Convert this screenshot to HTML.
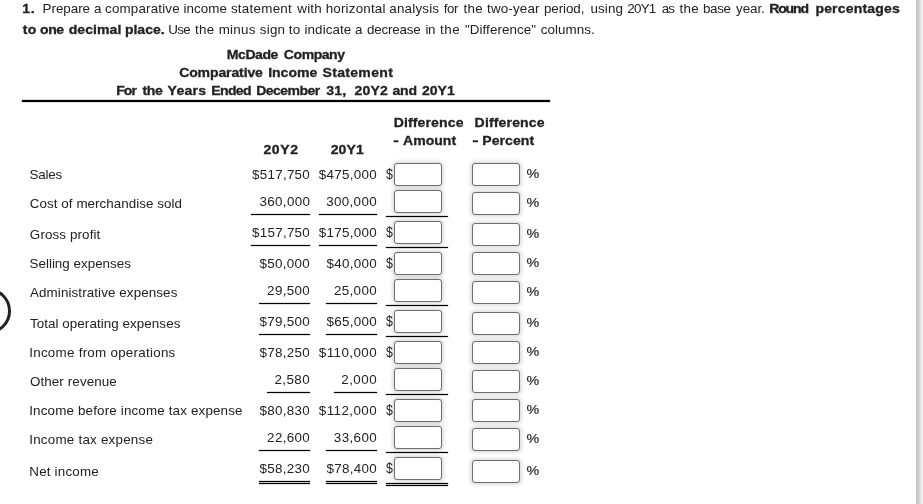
<!DOCTYPE html>
<html><head><meta charset="utf-8"><title>Comparative Income Statement</title>
<style>
html,body{margin:0;padding:0;background:#fff;}
body{width:923px;height:504px;position:relative;overflow:hidden;filter:grayscale(1);font-family:"Liberation Sans",sans-serif;color:#222;}
.t{position:absolute;left:0;white-space:nowrap;line-height:16px;font-size:13px;transform-origin:0 0;}
.b{font-weight:bold;-webkit-text-stroke:.3px #222;}
.pc{-webkit-text-stroke:.15px #222;}
.ln{position:absolute;background:#000;height:1px;box-shadow:0 0 0 .12px #000;}
.in{position:absolute;box-sizing:border-box;width:48px;height:23px;border:1px solid #6e6e6e;border-radius:3px;background:#fff;box-shadow:0 0 4px 0.5px rgba(0,0,0,.19);}
.sb{position:absolute;left:916px;top:0;width:7px;height:504px;background:linear-gradient(to right,#c3c3c3 0px,#c3c3c3 1px,#c9c9c9 1px,#c9c9c9 2px,#cfcfcf 2px,#cfcfcf 3px,#d8d8d8 3px,#d8d8d8 4px,#e3e3e3 4px,#e3e3e3 5px,#ededed 5px,#ededed 6px,#f1f1f1 6px,#f1f1f1 7px);}
.circ{position:absolute;left:-35.4px;top:287.5px;width:46.5px;height:46.5px;box-sizing:border-box;border:3px solid #222;border-radius:50%;}
</style></head><body>
<div class="t b" style="top:0.7px;letter-spacing:0.588px;transform:translateX(22.24px) scaleX(1.08)">1.</div>
<div class="t" style="top:0.7px;letter-spacing:-0.026px;transform:translateX(42.56px) scaleX(1.03)">Prepare</div>
<div class="t" style="top:0.7px;transform:translateX(94.11px) scaleX(1.03)">a</div>
<div class="t" style="top:0.7px;letter-spacing:0.159px;transform:translateX(105.06px) scaleX(1.03)">comparative</div>
<div class="t" style="top:0.7px;letter-spacing:0.066px;transform:translateX(183.51px) scaleX(1.03)">income</div>
<div class="t" style="top:0.7px;letter-spacing:0.249px;transform:translateX(230.92px) scaleX(1.03)">statement</div>
<div class="t" style="top:0.7px;letter-spacing:0.145px;transform:translateX(297.34px) scaleX(1.03)">with</div>
<div class="t" style="top:0.7px;letter-spacing:0.191px;transform:translateX(325.65px) scaleX(1.03)">horizontal</div>
<div class="t" style="top:0.7px;letter-spacing:0.172px;transform:translateX(389.36px) scaleX(1.03)">analysis</div>
<div class="t" style="top:0.7px;letter-spacing:-0.428px;transform:translateX(443.76px) scaleX(1.03)">for</div>
<div class="t" style="top:0.7px;letter-spacing:0.306px;transform:translateX(463.53px) scaleX(1.03)">the</div>
<div class="t" style="top:0.7px;letter-spacing:0.141px;transform:translateX(487.09px) scaleX(1.03)">two-year</div>
<div class="t" style="top:0.7px;letter-spacing:-0.075px;transform:translateX(543.94px) scaleX(1.03)">period,</div>
<div class="t" style="top:0.7px;letter-spacing:0.120px;transform:translateX(590.42px) scaleX(1.03)">using</div>
<div class="t" style="top:0.7px;letter-spacing:-0.704px;transform:translateX(627.21px) scaleX(1.03)">20Y1</div>
<div class="t" style="top:0.7px;letter-spacing:-1.033px;transform:translateX(661.81px) scaleX(1.03)">as</div>
<div class="t" style="top:0.7px;letter-spacing:0.241px;transform:translateX(679.54px) scaleX(1.03)">the</div>
<div class="t" style="top:0.7px;letter-spacing:-0.298px;transform:translateX(702.94px) scaleX(1.03)">base</div>
<div class="t" style="top:0.7px;letter-spacing:-0.092px;transform:translateX(736.08px) scaleX(1.03)">year.</div>
<div class="t b" style="top:0.7px;letter-spacing:-1.045px;transform:translateX(769.15px) scaleX(1.08)">Round</div>
<div class="t b" style="top:0.7px;letter-spacing:0.146px;transform:translateX(815.42px) scaleX(1.08)">percentages</div>
<div class="t b" style="top:21.7px;letter-spacing:0.392px;transform:translateX(22.64px) scaleX(1.08)">to</div>
<div class="t b" style="top:21.7px;letter-spacing:-0.342px;transform:translateX(39.93px) scaleX(1.08)">one</div>
<div class="t b" style="top:21.7px;letter-spacing:0.057px;transform:translateX(68.70px) scaleX(1.08)">decimal</div>
<div class="t b" style="top:21.7px;letter-spacing:-0.021px;transform:translateX(124.92px) scaleX(1.08)">place.</div>
<div class="t" style="top:21.7px;letter-spacing:-0.679px;transform:translateX(168.33px) scaleX(1.03)">Use</div>
<div class="t" style="top:21.7px;letter-spacing:0.274px;transform:translateX(195.09px) scaleX(1.03)">the</div>
<div class="t" style="top:21.7px;letter-spacing:0.277px;transform:translateX(218.65px) scaleX(1.03)">minus</div>
<div class="t" style="top:21.7px;letter-spacing:0.231px;transform:translateX(259.77px) scaleX(1.03)">sign</div>
<div class="t" style="top:21.7px;letter-spacing:0.278px;transform:translateX(288.74px) scaleX(1.03)">to</div>
<div class="t" style="top:21.7px;letter-spacing:0.086px;transform:translateX(304.51px) scaleX(1.03)">indicate</div>
<div class="t" style="top:21.7px;transform:translateX(355.11px) scaleX(1.03)">a</div>
<div class="t" style="top:21.7px;letter-spacing:-0.168px;transform:translateX(366.90px) scaleX(1.03)">decrease</div>
<div class="t" style="top:21.7px;letter-spacing:-0.369px;transform:translateX(425.43px) scaleX(1.03)">in</div>
<div class="t" style="top:21.7px;letter-spacing:0.479px;transform:translateX(440.08px) scaleX(1.03)">the</div>
<div class="t" style="top:21.7px;letter-spacing:0.074px;transform:translateX(464.90px) scaleX(1.03)">"Difference"</div>
<div class="t" style="top:21.7px;letter-spacing:0.047px;transform:translateX(540.81px) scaleX(1.03)">columns.</div>
<div class="t b" style="top:46.7px;letter-spacing:-0.428px;transform:translateX(226.81px) scaleX(1.08)">McDade</div>
<div class="t b" style="top:46.7px;letter-spacing:-0.437px;transform:translateX(283.86px) scaleX(1.08)">Company</div>
<div class="t b" style="top:64.7px;letter-spacing:-0.121px;transform:translateX(179.16px) scaleX(1.08)">Comparative</div>
<div class="t b" style="top:64.7px;letter-spacing:0.001px;transform:translateX(268.14px) scaleX(1.08)">Income</div>
<div class="t b" style="top:64.7px;letter-spacing:0.289px;transform:translateX(322.47px) scaleX(1.08)">Statement</div>
<div class="t b" style="top:82.7px;letter-spacing:-0.851px;transform:translateX(116.15px) scaleX(1.08)">For</div>
<div class="t b" style="top:82.7px;letter-spacing:-0.374px;transform:translateX(142.50px) scaleX(1.08)">the</div>
<div class="t b" style="top:82.7px;letter-spacing:0.220px;transform:translateX(167.62px) scaleX(1.08)">Years</div>
<div class="t b" style="top:82.7px;letter-spacing:-0.595px;transform:translateX(211.24px) scaleX(1.08)">Ended</div>
<div class="t b" style="top:82.7px;letter-spacing:-0.516px;transform:translateX(256.20px) scaleX(1.08)">December</div>
<div class="t b" style="top:82.7px;letter-spacing:0.280px;transform:translateX(326.13px) scaleX(1.08)">31,</div>
<div class="t b" style="top:82.7px;letter-spacing:0.171px;transform:translateX(354.41px) scaleX(1.08)">20Y2</div>
<div class="t b" style="top:82.7px;letter-spacing:-0.260px;transform:translateX(392.58px) scaleX(1.08)">and</div>
<div class="t b" style="top:82.7px;letter-spacing:-0.019px;transform:translateX(421.96px) scaleX(1.08)">20Y1</div>
<div class="t b" style="top:141.7px;letter-spacing:0.548px;transform:translateX(263.41px) scaleX(1.08)">20Y2</div>
<div class="t b" style="top:141.7px;letter-spacing:0.060px;transform:translateX(330.72px) scaleX(1.08)">20Y1</div>
<div class="t b" style="top:114.7px;letter-spacing:0.108px;transform:translateX(393.75px) scaleX(1.08)">Difference</div>
<div class="t b" style="top:132.7px;transform:translateX(393.24px) scaleX(1.266)">-</div>
<div class="t b" style="top:132.7px;letter-spacing:-0.014px;transform:translateX(403.11px) scaleX(1.08)">Amount</div>
<div class="t b" style="top:114.7px;letter-spacing:0.137px;transform:translateX(474.61px) scaleX(1.08)">Difference</div>
<div class="t b" style="top:132.7px;transform:translateX(472.29px) scaleX(1.455)">-</div>
<div class="t b" style="top:132.7px;letter-spacing:0.051px;transform:translateX(482.23px) scaleX(1.08)">Percent</div>
<div class="t" style="top:166.7px;letter-spacing:-0.192px;transform:translateX(29.53px) scaleX(1.03)">Sales</div>
<div class="t" style="top:166.7px;letter-spacing:0.253px;transform:translateX(252.09px) scaleX(1.03)">$517,750</div>
<div class="t" style="top:166.7px;letter-spacing:0.272px;transform:translateX(318.83px) scaleX(1.03)">$475,000</div>
<div class="t" style="top:165.7px;font-size:14.5px;transform:translateX(385.97px) scaleX(0.846)">$</div>
<div class="t pc" style="top:165.7px;transform:translateX(526.56px) scaleX(1.103)">%</div>
<div class="t" style="top:195.7px;letter-spacing:0.048px;transform:translateX(29.85px) scaleX(1.03)">Cost of merchandise sold</div>
<div class="t" style="top:193.7px;letter-spacing:0.332px;transform:translateX(259.46px) scaleX(1.03)">360,000</div>
<div class="t" style="top:193.7px;letter-spacing:0.345px;transform:translateX(326.13px) scaleX(1.03)">300,000</div>
<div class="t pc" style="top:194.7px;transform:translateX(526.56px) scaleX(1.103)">%</div>
<div class="t" style="top:226.7px;letter-spacing:0.113px;transform:translateX(29.85px) scaleX(1.03)">Gross profit</div>
<div class="t" style="top:224.7px;letter-spacing:0.253px;transform:translateX(252.09px) scaleX(1.03)">$157,750</div>
<div class="t" style="top:224.7px;letter-spacing:0.272px;transform:translateX(318.83px) scaleX(1.03)">$175,000</div>
<div class="t" style="top:223.7px;font-size:14.5px;transform:translateX(385.97px) scaleX(0.846)">$</div>
<div class="t pc" style="top:225.7px;transform:translateX(526.56px) scaleX(1.103)">%</div>
<div class="t" style="top:255.7px;letter-spacing:0.008px;transform:translateX(29.53px) scaleX(1.03)">Selling expenses</div>
<div class="t" style="top:255.7px;letter-spacing:0.282px;transform:translateX(259.53px) scaleX(1.03)">$50,000</div>
<div class="t" style="top:255.7px;letter-spacing:0.289px;transform:translateX(326.45px) scaleX(1.03)">$40,000</div>
<div class="t" style="top:254.7px;font-size:14.5px;transform:translateX(385.97px) scaleX(0.846)">$</div>
<div class="t pc" style="top:254.7px;transform:translateX(526.56px) scaleX(1.103)">%</div>
<div class="t" style="top:284.7px;letter-spacing:0.096px;transform:translateX(30.02px) scaleX(1.03)">Administrative expenses</div>
<div class="t" style="top:282.7px;letter-spacing:0.325px;transform:translateX(267.10px) scaleX(1.03)">29,500</div>
<div class="t" style="top:282.7px;letter-spacing:0.337px;transform:translateX(333.96px) scaleX(1.03)">25,000</div>
<div class="t pc" style="top:283.7px;transform:translateX(526.56px) scaleX(1.103)">%</div>
<div class="t" style="top:315.7px;letter-spacing:0.066px;transform:translateX(29.90px) scaleX(1.03)">Total operating expenses</div>
<div class="t" style="top:313.7px;letter-spacing:0.282px;transform:translateX(259.53px) scaleX(1.03)">$79,500</div>
<div class="t" style="top:313.7px;letter-spacing:0.289px;transform:translateX(326.45px) scaleX(1.03)">$65,000</div>
<div class="t" style="top:312.7px;font-size:14.5px;transform:translateX(385.97px) scaleX(0.846)">$</div>
<div class="t pc" style="top:314.7px;transform:translateX(526.56px) scaleX(1.103)">%</div>
<div class="t" style="top:344.7px;letter-spacing:0.249px;transform:translateX(29.23px) scaleX(1.03)">Income from operations</div>
<div class="t" style="top:344.7px;letter-spacing:0.282px;transform:translateX(259.53px) scaleX(1.03)">$78,250</div>
<div class="t" style="top:344.7px;letter-spacing:0.410px;transform:translateX(318.83px) scaleX(1.03)">$110,000</div>
<div class="t" style="top:343.7px;font-size:14.5px;transform:translateX(385.97px) scaleX(0.846)">$</div>
<div class="t pc" style="top:343.7px;transform:translateX(526.56px) scaleX(1.103)">%</div>
<div class="t" style="top:373.7px;letter-spacing:0.107px;transform:translateX(29.90px) scaleX(1.03)">Other revenue</div>
<div class="t" style="top:371.7px;letter-spacing:0.421px;transform:translateX(274.39px) scaleX(1.03)">2,580</div>
<div class="t" style="top:371.7px;letter-spacing:0.451px;transform:translateX(341.25px) scaleX(1.03)">2,000</div>
<div class="t pc" style="top:372.7px;transform:translateX(526.56px) scaleX(1.103)">%</div>
<div class="t" style="top:402.7px;letter-spacing:0.153px;transform:translateX(29.23px) scaleX(1.03)">Income before income tax expense</div>
<div class="t" style="top:402.7px;letter-spacing:0.282px;transform:translateX(259.53px) scaleX(1.03)">$80,830</div>
<div class="t" style="top:402.7px;letter-spacing:0.410px;transform:translateX(318.83px) scaleX(1.03)">$112,000</div>
<div class="t" style="top:401.7px;font-size:14.5px;transform:translateX(385.97px) scaleX(0.846)">$</div>
<div class="t pc" style="top:401.7px;transform:translateX(526.56px) scaleX(1.103)">%</div>
<div class="t" style="top:431.7px;letter-spacing:0.219px;transform:translateX(29.23px) scaleX(1.03)">Income tax expense</div>
<div class="t" style="top:429.7px;letter-spacing:0.325px;transform:translateX(267.10px) scaleX(1.03)">22,600</div>
<div class="t" style="top:429.7px;letter-spacing:0.353px;transform:translateX(333.87px) scaleX(1.03)">33,600</div>
<div class="t pc" style="top:430.7px;transform:translateX(526.56px) scaleX(1.103)">%</div>
<div class="t" style="top:463.7px;letter-spacing:0.178px;transform:translateX(29.31px) scaleX(1.03)">Net income</div>
<div class="t" style="top:460.7px;letter-spacing:0.282px;transform:translateX(259.53px) scaleX(1.03)">$58,230</div>
<div class="t" style="top:460.7px;letter-spacing:0.289px;transform:translateX(326.45px) scaleX(1.03)">$78,400</div>
<div class="t" style="top:459.7px;font-size:14.5px;transform:translateX(385.97px) scaleX(0.846)">$</div>
<div class="t pc" style="top:462.7px;transform:translateX(526.56px) scaleX(1.103)">%</div>
<div class="ln" style="left:22px;top:100px;width:528px;height:2px;background:#000"></div>
<div class="in" style="left:394px;top:163px"></div><div class="in" style="left:472px;top:163px"></div>
<div class="in" style="left:394px;top:190px"></div><div class="in" style="left:472px;top:192px"></div>
<div class="ln" style="left:251px;top:214px;width:59px"></div><div class="ln" style="left:319px;top:214px;width:58px"></div><div class="ln" style="left:386px;top:216px;width:62px"></div>
<div class="in" style="left:394px;top:221px"></div><div class="in" style="left:472px;top:223px"></div>
<div class="ln" style="left:251px;top:245px;width:59px"></div><div class="ln" style="left:319px;top:245px;width:58px"></div><div class="ln" style="left:386px;top:247px;width:62px"></div>
<div class="in" style="left:394px;top:252px"></div><div class="in" style="left:472px;top:252px"></div>
<div class="in" style="left:394px;top:279px"></div><div class="in" style="left:472px;top:281px"></div>
<div class="ln" style="left:259px;top:303px;width:51px"></div><div class="ln" style="left:326px;top:303px;width:51px"></div><div class="ln" style="left:386px;top:305px;width:62px"></div>
<div class="in" style="left:394px;top:310px"></div><div class="in" style="left:472px;top:312px"></div>
<div class="ln" style="left:259px;top:334px;width:51px"></div><div class="ln" style="left:326px;top:334px;width:51px"></div><div class="ln" style="left:386px;top:336px;width:62px"></div>
<div class="in" style="left:394px;top:341px"></div><div class="in" style="left:472px;top:341px"></div>
<div class="in" style="left:394px;top:368px"></div><div class="in" style="left:472px;top:370px"></div>
<div class="ln" style="left:267px;top:392px;width:43px"></div><div class="ln" style="left:334px;top:392px;width:43px"></div><div class="ln" style="left:386px;top:394px;width:62px"></div>
<div class="in" style="left:394px;top:399px"></div><div class="in" style="left:472px;top:399px"></div>
<div class="in" style="left:394px;top:426px"></div><div class="in" style="left:472px;top:428px"></div>
<div class="ln" style="left:259px;top:450px;width:51px"></div><div class="ln" style="left:326px;top:450px;width:51px"></div><div class="ln" style="left:386px;top:452px;width:62px"></div>
<div class="in" style="left:394px;top:457px"></div><div class="in" style="left:472px;top:460px"></div>
<div class="ln" style="left:259px;top:481px;width:51px"></div><div class="ln" style="left:326px;top:481px;width:51px"></div><div class="ln" style="left:386px;top:483px;width:62px"></div>
<div class="ln" style="left:259px;top:483px;width:51px"></div><div class="ln" style="left:326px;top:483px;width:51px"></div><div class="ln" style="left:386px;top:485px;width:62px"></div>
<div class="sb"></div><div class="circ"></div>
</body></html>
